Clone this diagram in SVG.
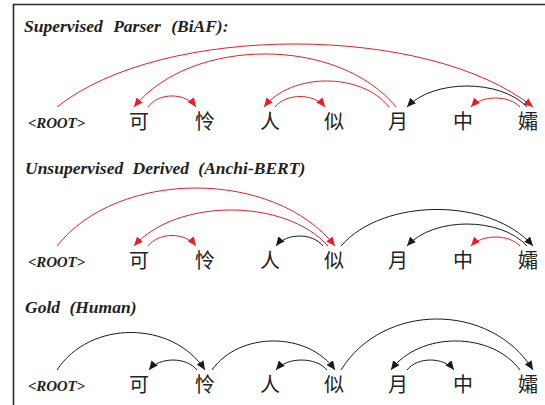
<svg xmlns="http://www.w3.org/2000/svg" width="545" height="405" viewBox="0 0 545 405">
<defs>
<style>
.title{font-family:"Liberation Serif","Times New Roman",serif;font-weight:bold;font-style:italic;font-size:17.5px;fill:#222}
.root{font-family:"Liberation Serif","Times New Roman",serif;font-weight:bold;font-style:italic;font-size:15px;fill:#222}
.w{font-family:"Noto Sans CJK SC","Noto Sans CJK JP",sans-serif;font-size:20px;font-weight:normal;fill:#222;text-anchor:middle}
.r{fill:none;stroke:#ed1c24;stroke-width:1}
.k{fill:none;stroke:#1a1a1a;stroke-width:1}
.frame{fill:none;stroke:#2a2a2a;stroke-width:1.6}
</style>
<marker id="ar" markerUnits="userSpaceOnUse" markerWidth="10" markerHeight="8" refX="9" refY="4" orient="auto"><path d="M0,0 L9,4 L0,8 Z" fill="#ed1c24"/></marker>
<marker id="ak" markerUnits="userSpaceOnUse" markerWidth="10" markerHeight="8" refX="9" refY="4" orient="auto"><path d="M0,0 L9,4 L0,8 Z" fill="#1a1a1a"/></marker>
</defs>
<rect width="545" height="405" fill="#fff"/>
<path class="frame" d="M13.5,405 V4.5 H545"/>

<text class="title" x="24" y="32" word-spacing="6">Supervised Parser (BiAF):</text>
<text class="title" x="25" y="174" word-spacing="5">Unsupervised Derived (Anchi-BERT)</text>
<text class="title" x="25" y="313" word-spacing="5">Gold (Human)</text>

<g id="row1">
<g id="r1-root"><text class="root" x="28" y="128" textLength="57">&lt;ROOT&gt;</text></g>
<g id="r1-w1"><text class="w" x="139" y="129">可</text></g>
<g id="r1-w2"><text class="w" x="205" y="129">怜</text></g>
<g id="r1-w3"><text class="w" x="270" y="129">人</text></g>
<g id="r1-w4"><text class="w" x="334" y="129">似</text></g>
<g id="r1-w5"><text class="w" x="398" y="129">月</text></g>
<g id="r1-w6"><text class="w" x="463" y="129">中</text></g>
<g id="r1-w7"><text class="w" x="528" y="129">孀</text></g>
</g>
<g id="row2">
<g id="r2-root"><text class="root" x="28" y="267" textLength="57">&lt;ROOT&gt;</text></g>
<g id="r2-w1"><text class="w" x="139" y="268">可</text></g>
<g id="r2-w2"><text class="w" x="205" y="268">怜</text></g>
<g id="r2-w3"><text class="w" x="270" y="268">人</text></g>
<g id="r2-w4"><text class="w" x="334" y="268">似</text></g>
<g id="r2-w5"><text class="w" x="398" y="268">月</text></g>
<g id="r2-w6"><text class="w" x="463" y="268">中</text></g>
<g id="r2-w7"><text class="w" x="528" y="268">孀</text></g>
</g>
<g id="row3">
<g id="r3-root"><text class="root" x="28" y="391" textLength="57">&lt;ROOT&gt;</text></g>
<g id="r3-w1"><text class="w" x="139" y="392">可</text></g>
<g id="r3-w2"><text class="w" x="205" y="392">怜</text></g>
<g id="r3-w3"><text class="w" x="270" y="392">人</text></g>
<g id="r3-w4"><text class="w" x="334" y="392">似</text></g>
<g id="r3-w5"><text class="w" x="398" y="392">月</text></g>
<g id="r3-w6"><text class="w" x="463" y="392">中</text></g>
<g id="r3-w7"><text class="w" x="528" y="392">孀</text></g>
</g>

<g id="connectors">
<g id="arcs-row1">
<path class="r" marker-end="url(#ar)" d="M57,107 C162,23 428,23 533,107"/>
<path class="r" marker-end="url(#ar)" d="M396,107 C338.4,36.3 191.6,36.3 134,107"/>
<path class="r" marker-end="url(#ar)" d="M148,107 C158.6,92.3 185.4,92.3 196,107"/>
<path class="r" marker-end="url(#ar)" d="M389,107 C361.5,72.3 291.5,72.3 264,107"/>
<path class="r" marker-end="url(#ar)" d="M275,107 C286,93 314,93 325,107"/>
<path class="k" marker-end="url(#ak)" d="M527,107 C500.6,79 433.4,79 407,107"/>
<path class="r" marker-end="url(#ar)" d="M520,107 C509.2,95 481.8,95 471,107"/>
</g>
<g id="arcs-row2">
<path class="r" marker-end="url(#ar)" d="M57,246 C118,168.7 274,168.7 335,246"/>
<path class="r" marker-end="url(#ar)" d="M328,246 C285.3,198 176.7,198 134,246"/>
<path class="r" marker-end="url(#ar)" d="M148,246 C158.6,232 185.4,232 196,246"/>
<path class="k" marker-end="url(#ak)" d="M323,246 C312.7,232.7 286.3,232.7 276,246"/>
<path class="k" marker-end="url(#ak)" d="M341,246 C383.2,197.3 490.8,197.3 533,246"/>
<path class="k" marker-end="url(#ak)" d="M527,246 C500.6,216.7 433.4,216.7 407,246"/>
<path class="r" marker-end="url(#ar)" d="M520,246 C509.2,234 481.8,234 471,246"/>
</g>
<g id="arcs-row3">
<path class="k" marker-end="url(#ak)" d="M57,370 C89.6,320 172.4,320 205,370"/>
<path class="k" marker-end="url(#ak)" d="M197,370 C186.4,356.7 159.6,356.7 149,370"/>
<path class="k" marker-end="url(#ak)" d="M212,370 C239,331.3 308,331.3 335,370"/>
<path class="k" marker-end="url(#ak)" d="M327,370 C315.8,356.7 287.2,356.7 276,370"/>
<path class="k" marker-end="url(#ak)" d="M341,370 C383.2,302 490.8,302 533,370"/>
<path class="k" marker-end="url(#ak)" d="M520,370 C491.6,331.3 419.4,331.3 391,370"/>
<path class="k" marker-end="url(#ak)" d="M407,370 C417.3,356.7 443.7,356.7 454,370"/>
</g>
</g>
</svg>
